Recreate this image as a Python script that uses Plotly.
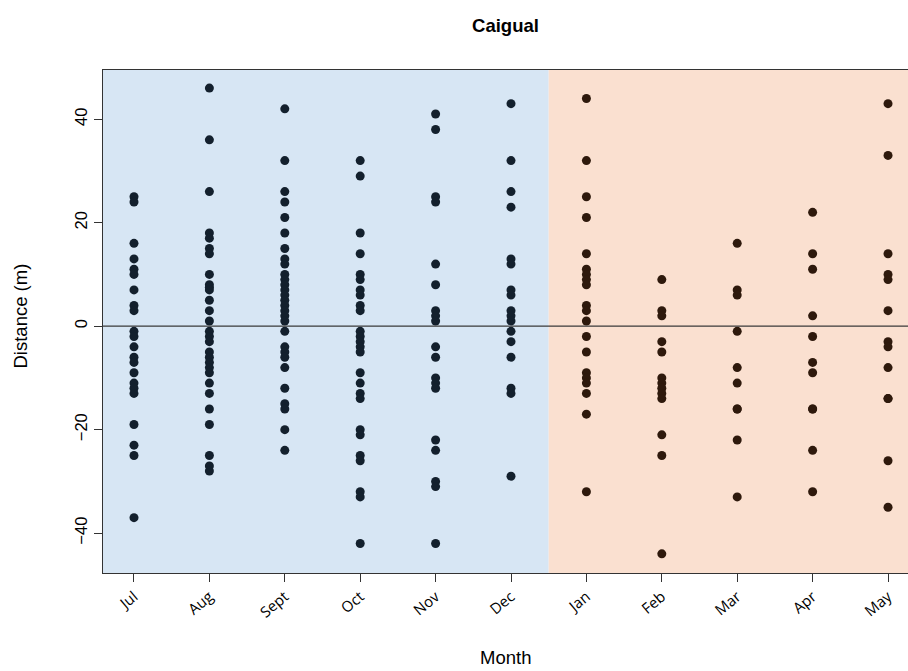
import plotly.graph_objects as go

months = ["Jul", "Aug", "Sept", "Oct", "Nov", "Dec", "Jan", "Feb", "Mar", "Apr", "May"]

jul = [25, 24, 16, 13, 11, 10, 7, 4, 3, -1, -2, -4, -6, -7, -9, -11, -12, -13, -19, -23, -25, -37]
aug = [46, 36, 26, 18, 17, 15, 14, 10, 8, 7.5, 7, 5, 3, 1, -1, -2, -3, -5, -6, -7, -8, -9, -11, -13, -16, -19, -25, -27, -28]
sept = [42, 32, 26, 24, 21, 18, 15, 13, 12, 10, 9, 8, 7, 6, 5, 4, 3, 2, 1, -1, -4, -5, -6, -8, -12, -15, -16, -20, -24]
oct_ = [32, 29, 18, 14, 10, 9, 7, 6, 4, 3, -1, -2, -3, -4, -5, -9, -11, -13, -14, -20, -21, -25, -26, -32, -33, -42]
nov = [41, 38, 25, 24, 12, 8, 3, 2, 1, -4, -6, -10, -11, -12, -22, -24, -30, -31, -42]
dec = [43, 32, 26, 23, 13, 12, 7, 6, 3, 2, 1, -1, -3, -6, -12, -13, -29]
jan = [44, 32, 25, 21, 14, 11, 10, 9, 8, 4, 3, 1, -2, -5, -9, -10, -11, -13, -17, -32]
feb = [9, 3, 2, -3, -5, -10, -11, -12, -13, -14, -21, -25, -44]
mar = [16, 7, 6, -1, -8, -11, -16, -16, -22, -33]
apr = [22, 14, 11, 2, -2, -7, -9, -16, -16, -24, -32]
may = [43, 33, 14, 10, 9, 3, -3, -4, -8, -14, -14, -26, -35]

series = [jul, aug, sept, oct_, nov, dec, jan, feb, mar, apr, may]
wet_season = months[:6]

blue_bg = "#D7E6F4"
peach_bg = "#FAE0D0"
blue_pt = "#13202D"
brown_pt = "#2E190C"

fig = go.Figure()
for i, (m, vals) in enumerate(zip(months, series)):
    color = blue_pt if m in wet_season else brown_pt
    fig.add_trace(go.Scatter(
        x=[i + 1] * len(vals), y=vals, mode="markers",
        marker=dict(size=9, color=color, line=dict(width=0)),
        showlegend=False, hoverinfo="y"))

xmin, xmax = 0.589, 11.265
fig.add_shape(type="rect", xref="x", yref="paper", x0=xmin, x1=6.5, y0=0, y1=1,
              fillcolor=blue_bg, line=dict(width=0), layer="below")
fig.add_shape(type="rect", xref="x", yref="paper", x0=6.5, x1=xmax, y0=0, y1=1,
              fillcolor=peach_bg, line=dict(width=0), layer="below")
fig.add_shape(type="line", xref="paper", yref="y", x0=0, x1=1, y0=0, y1=0,
              line=dict(color="#3a3a3a", width=1.2), layer="above")

fig.update_layout(
    width=908, height=671,
    margin=dict(l=103, r=0, t=70, b=98),
    paper_bgcolor="white", plot_bgcolor="white",
    title=dict(text="<b>Caigual</b>", x=(103 + 908) / 2 / 908, xanchor="center",
               y=1 - 26 / 671, yanchor="middle",
               font=dict(family="Liberation Sans, Arial", size=18.5, color="black")),
    xaxis=dict(range=[xmin, xmax], tickmode="array", tickvals=list(range(1, 12)),
               ticktext=months, tickangle=-40, ticks="outside", ticklen=8,
               tickcolor="#333", showgrid=False, zeroline=False,
               showline=True, linecolor="#333", linewidth=1.2, mirror=True,
               tickfont=dict(family="Open Sans, Lato, sans-serif", size=15, color="black")),
    yaxis=dict(range=[-47.7, 49.5], tickvals=[-40, -20, 0, 20, 40],
               ticktext=["\u221240", "\u221220", "0", "20", "40"],
               tickangle=-90, ticks="outside", ticklen=8, tickcolor="#333",
               showgrid=False, zeroline=False, showline=True, linecolor="#333",
               linewidth=1.2,
               tickfont=dict(family="Liberation Sans, Arial", size=16.5, color="black")),
    annotations=[
        dict(text="Month", xref="paper", yref="paper", x=0.5, y=-(657 - 573) / 503,
             yanchor="middle", showarrow=False,
             font=dict(family="Liberation Sans, Arial", size=18.5, color="black")),
        dict(text="Distance (m)", xref="paper", yref="paper", x=-(103 - 20) / 805,
             y=0.5 + (326 - 321) / 503, xanchor="center", yanchor="middle",
             textangle=-90, showarrow=False,
             font=dict(family="Liberation Sans, Arial", size=18.5, color="black")),
    ],
)

fig.write_html("out.html")
